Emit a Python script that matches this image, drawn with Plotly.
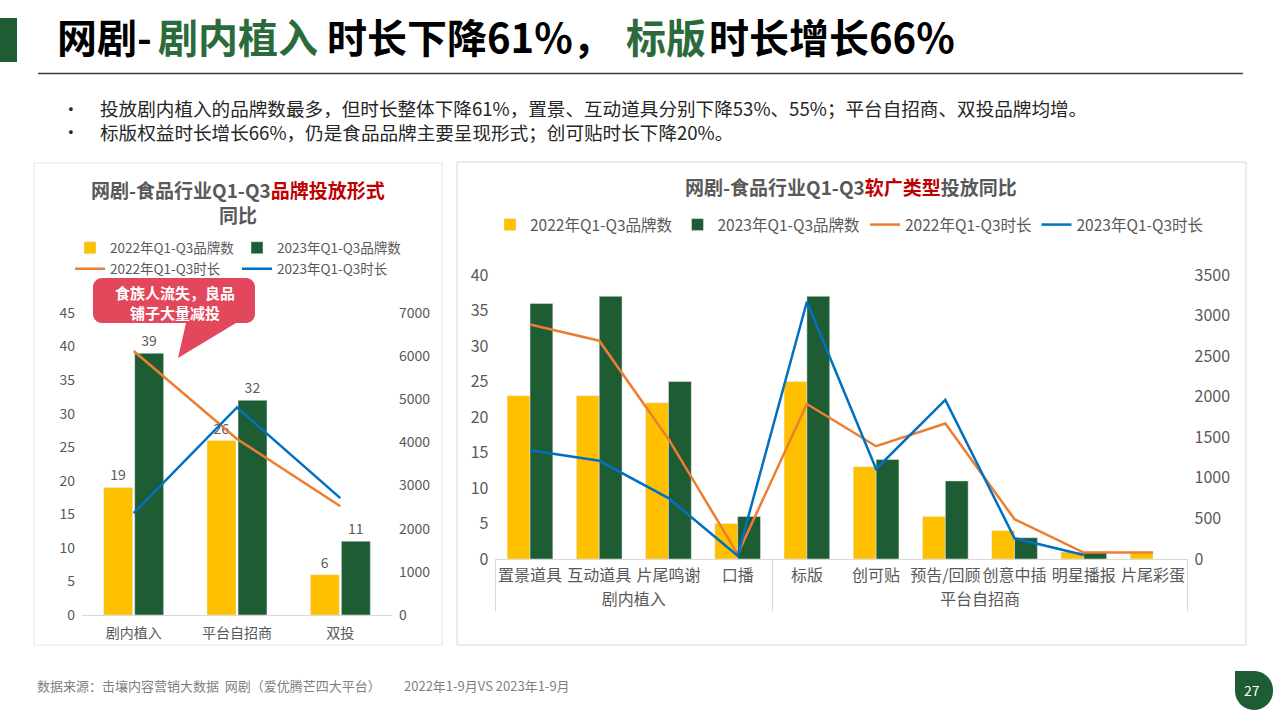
import plotly.graph_objects as go

W, H = 1280, 720
def px(x): return x / W
def py(y): return 1 - y / H

# ---------------- data ----------------
form_cats = ['剧内植入', '平台自招商', '双投']
form_brands_2022 = [19, 26, 6]
form_brands_2023 = [39, 32, 11]
form_dur_2022 = [6120, 4080, 2520]
form_dur_2023 = [2360, 4810, 2710]

type_groups = ['剧内植入'] * 4 + ['平台自招商'] * 6
type_cats = ['置景道具', '互动道具', '片尾鸣谢', '口播', '标版', '创可贴',
             '预告/回顾', '创意中插', '明星播报', '片尾彩蛋']
type_brands_2022 = [23, 23, 22, 5, 25, 13, 6, 4, 1, 1]
type_brands_2023 = [36, 37, 25, 6, 37, 14, 11, 3, 1, 0]
type_dur_2022 = [2890, 2690, 1480, 60, 1910, 1390, 1670, 490, 80, 80]
type_dur_2023 = [1340, 1210, 750, 40, 3170, 1110, 1960, 255, 50, None]

series_names = ['2022年Q1-Q3品牌数', '2023年Q1-Q3品牌数', '2022年Q1-Q3时长', '2023年Q1-Q3时长']

YELLOW = '#FFC000'
GREEN = '#1E5C34'
ORANGE = '#ED7D31'
BLUE = '#0070C0'
GRAY = '#595959'
FONT = 'Noto Sans CJK SC'

fig = go.Figure()

# ---------------- left chart ----------------
fig.add_trace(go.Bar(x=form_cats, y=form_brands_2022, name=series_names[0], marker_color=YELLOW,
                     width=0.28, offset=-0.29, xaxis='x', yaxis='y', legend='legend',
                     texttemplate='%{y}', textposition='outside', cliponaxis=False,
                     textfont=dict(size=14, color=GRAY)))
fig.add_trace(go.Bar(x=form_cats, y=form_brands_2023, name=series_names[1], marker_color=GREEN,
                     width=0.28, offset=0.01, xaxis='x', yaxis='y', legend='legend',
                     texttemplate='%{y}', textposition='outside', cliponaxis=False,
                     textfont=dict(size=14, color=GRAY)))
fig.add_trace(go.Scatter(x=form_cats, y=form_dur_2022, name=series_names[2], mode='lines',
                         line=dict(color=ORANGE, width=2.5), xaxis='x', yaxis='y2', legend='legend2'))
fig.add_trace(go.Scatter(x=form_cats, y=form_dur_2023, name=series_names[3], mode='lines',
                         line=dict(color=BLUE, width=2.5), xaxis='x', yaxis='y2', legend='legend2'))

# ---------------- right chart ----------------
xmc = [type_groups, type_cats]
fig.add_trace(go.Bar(x=xmc, y=type_brands_2022, name=series_names[0], marker_color=YELLOW,
                     width=0.33, offset=-0.33, xaxis='x2', yaxis='y3', legend='legend3'))
fig.add_trace(go.Bar(x=xmc, y=type_brands_2023, name=series_names[1], marker_color=GREEN,
                     width=0.33, offset=0.0, xaxis='x2', yaxis='y3', legend='legend3'))
fig.add_trace(go.Scatter(x=xmc, y=type_dur_2022, name=series_names[2], mode='lines',
                         line=dict(color=ORANGE, width=2.5), xaxis='x2', yaxis='y4', legend='legend3'))
fig.add_trace(go.Scatter(x=xmc, y=type_dur_2023, name=series_names[3], mode='lines',
                         line=dict(color=BLUE, width=2.5), xaxis='x2', yaxis='y4', legend='legend3'))

# ---------------- shapes ----------------
K = 0.5523
def P(x, y):
    return f'{px(x):.5f},{py(y):.5f}'

def rounded_path(x0, y0, x1, y1, r_tl, r_tr, r_br, r_bl, pointer=None):
    s = f'M {P(x0 + r_tl, y0)} L {P(x1 - r_tr, y0)} '
    if r_tr:
        s += f'C {P(x1 - r_tr + K * r_tr, y0)} {P(x1, y0 + r_tr - K * r_tr)} {P(x1, y0 + r_tr)} '
    s += f'L {P(x1, y1 - r_br)} '
    if r_br:
        s += f'C {P(x1, y1 - r_br + K * r_br)} {P(x1 - r_br + K * r_br, y1)} {P(x1 - r_br, y1)} '
    if pointer:
        pl, pr, tx, ty = pointer
        s += f'L {P(pr, y1)} L {P(tx, ty)} L {P(pl, y1)} '
    s += f'L {P(x0 + r_bl, y1)} '
    if r_bl:
        s += f'C {P(x0 + r_bl - K * r_bl, y1)} {P(x0, y1 - r_bl + K * r_bl)} {P(x0, y1 - r_bl)} '
    s += f'L {P(x0, y0 + r_tl)} '
    if r_tl:
        s += f'C {P(x0, y0 + r_tl - K * r_tl)} {P(x0 + r_tl - K * r_tl, y0)} {P(x0 + r_tl, y0)} '
    s += 'Z'
    return s

shapes = [
    dict(type='rect', xref='paper', yref='paper', x0=px(0), x1=px(17), y0=py(62), y1=py(18),
         fillcolor=GREEN, line=dict(width=0), layer='below'),
    dict(type='line', xref='paper', yref='paper', x0=px(38), x1=px(1243), y0=py(73.5), y1=py(73.5),
         line=dict(color='#3F3F3F', width=1.5)),
    dict(type='rect', xref='paper', yref='paper', x0=px(34), x1=px(442), y0=py(645), y1=py(163),
         line=dict(color='#E6E6E6', width=1), fillcolor='rgba(0,0,0,0)', layer='below'),
    dict(type='rect', xref='paper', yref='paper', x0=px(457), x1=px(1246), y0=py(645), y1=py(162),
         line=dict(color='#D9D9D9', width=1), fillcolor='rgba(0,0,0,0)', layer='below'),
    dict(type='path', xref='paper', yref='paper',
         path=rounded_path(93, 278, 255, 323, 9, 9, 9, 9, pointer=(186, 236, 178, 358)),
         fillcolor='#E2475C', line=dict(width=0), layer='above'),
    dict(type='path', xref='paper', yref='paper',
         path=rounded_path(1235, 671, 1273, 710, 0, 19, 19, 19),
         fillcolor=GREEN, line=dict(width=0)),
]

# ---------------- annotations ----------------
def ann(x, y, text, size, color='#000000', xanchor='left', bold=False, yanchor='middle', align='left'):
    return dict(xref='paper', yref='paper', x=px(x), y=py(y), text=(f'<b>{text}</b>' if bold else text),
                showarrow=False, xanchor=xanchor, yanchor=yanchor, align=align,
                font=dict(family=FONT, size=size, color=color))

TG = '#2B6B3B'
bullet_1 = '投放剧内植入的品牌数最多，但时长整体下降61%，置景、互动道具分别下降53%、55%；平台自招商、双投品牌均增。'
bullet_2 = '标版权益时长增长66%，仍是食品品牌主要呈现形式；创可贴时长下降20%。'
annotations = [
    ann(55, 36, '网剧-', 40, '#000000', bold=True),
    ann(156, 36, '剧内植入', 40, TG, bold=True),
    ann(325, 36, '时长下降61%，', 40, '#000000', bold=True),
    ann(624, 36, '标版', 40, TG, bold=True),
    ann(707, 36, '时长增长66%', 40, '#000000', bold=True),
    ann(60, 119.5, '•<br>•', 17.7, '#262626'),
    ann(98, 119.5, bullet_1 + '<br>' + bullet_2, 18.6, '#262626'),
    ann(238, 201.5, '网剧-食品行业Q1-Q3<span style="color:#C00000">品牌投放形式</span><br>同比', 19, GRAY,
        xanchor='center', bold=True, align='center'),
    ann(851, 187, '网剧-食品行业Q1-Q3<span style="color:#C00000">软广类型</span>投放同比', 19, GRAY, xanchor='center', bold=True),
    ann(175, 302.5, '食族人流失，良品<br>铺子大量减投', 15, '#FFFFFF', xanchor='center', bold=True, align='center'),
    ann(35, 685, '数据来源：击壤内容营销大数据  网剧（爱优腾芒四大平台）', 13, '#7F7F7F'),
    ann(402, 685, '2022年1-9月VS 2023年1-9月', 13, '#7F7F7F'),
    ann(1252, 690, '27', 14, '#FFFFFF', xanchor='center'),
]

tickfont_l = dict(family=FONT, size=14, color=GRAY)
tickfont_r = dict(family=FONT, size=16, color=GRAY)
leg_font_l = dict(family=FONT, size=13.5, color=GRAY)
leg_font_r = dict(family=FONT, size=15.5, color=GRAY)

fig.update_layout(
    width=W, height=H, margin=dict(l=0, r=0, t=0, b=0, autoexpand=False),
    paper_bgcolor='white', plot_bgcolor='rgba(0,0,0,0)',
    font=dict(family=FONT, color=GRAY),
    barmode='overlay',
    showlegend=True,
    xaxis=dict(domain=[px(82), px(392)], anchor='y', type='category', showline=True,
               linecolor='#D9D9D9', linewidth=1, ticks='', showgrid=False, zeroline=False,
               tickangle=0, automargin=False, ticklabelstandoff=5,
               tickfont=dict(family=FONT, size=14, color=GRAY)),
    yaxis=dict(domain=[py(615), py(313)], anchor='x', range=[0, 45], dtick=5, showgrid=False,
               zeroline=False, showline=False, ticks='', tickfont=tickfont_l, ticklabelstandoff=6,
               automargin=False),
    yaxis2=dict(overlaying='y', anchor='x', side='right', range=[0, 7000], dtick=1000, showgrid=False,
                zeroline=False, showline=False, ticks='', tickfont=tickfont_l, ticklabelstandoff=6,
                automargin=False),
    xaxis2=dict(domain=[px(495.4), px(1187.6)], anchor='y3', type='multicategory', showline=True,
                linecolor='#D9D9D9', linewidth=1, ticks='', showgrid=False, zeroline=False,
                showdividers=True, dividercolor='#D9D9D9', dividerwidth=1, tickangle=0,
                ticklabelstandoff=2, automargin=False, tickfont=tickfont_r),
    yaxis3=dict(domain=[py(559), py(275)], anchor='x2', range=[0, 40], dtick=5, showgrid=False,
                zeroline=False, showline=False, ticks='', tickfont=tickfont_r, ticklabelstandoff=6,
                automargin=False),
    yaxis4=dict(overlaying='y3', anchor='x2', side='right', range=[0, 3500], dtick=500, showgrid=False,
                zeroline=False, showline=False, ticks='', tickfont=tickfont_r, ticklabelstandoff=6,
                automargin=False),
    legend=dict(orientation='h', x=px(70), y=py(248), xanchor='left', yanchor='middle',
                bgcolor='rgba(0,0,0,0)', font=leg_font_l, entrywidth=122, entrywidthmode='pixels',
                traceorder='normal'),
    legend2=dict(orientation='h', x=px(70), y=py(269), xanchor='left', yanchor='middle',
                 bgcolor='rgba(0,0,0,0)', font=leg_font_l, entrywidth=122, entrywidthmode='pixels',
                 traceorder='normal'),
    legend3=dict(orientation='h', x=px(490), y=py(225), xanchor='left', yanchor='middle',
                 bgcolor='rgba(0,0,0,0)', font=leg_font_r, traceorder='normal'),
    shapes=shapes,
    annotations=annotations,
)

fig.write_html('out.html', config={'displayModeBar': False},
               post_script="document.body.style.margin='0px';")
